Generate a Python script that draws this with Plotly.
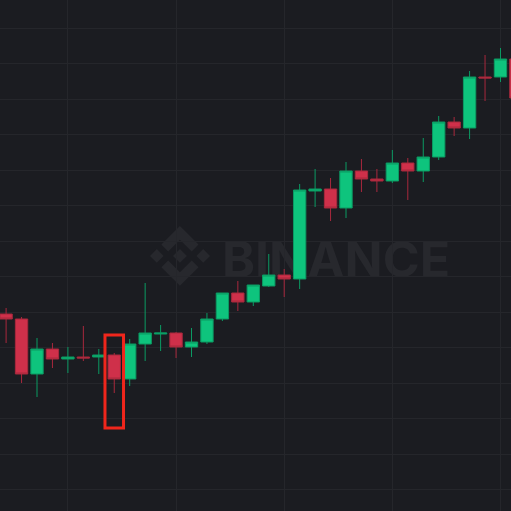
import plotly.graph_objects as go

# ---- data (price units) ----
candle_index = list(range(34))
open_ = [186, 181, 126, 151, 141, 143, 143, 145, 121, 156, 166, 167, 153, 158, 181, 207, 198,
         214, 225, 221, 309, 311, 292, 329, 321, 319, 337, 329, 343, 378, 372, 423, 423, 441]
high = [192, 183, 162, 157, 153, 174, 151, 147, 161, 217, 175, 168, 172, 187, 207, 219, 215,
        246, 231, 316, 331, 322, 338, 341, 331, 350, 342, 362, 384, 383, 429, 445, 452, 446]
low = [157, 117, 103, 132, 127, 139, 126, 107, 114, 139, 149, 142, 143, 156, 179, 189, 194,
       213, 203, 211, 293, 279, 282, 308, 308, 317, 300, 318, 340, 364, 361, 399, 418, 395]
close = [181, 126, 151, 141, 143, 142, 145, 121, 156, 167, 167, 153, 158, 181, 207, 198, 215,
         225, 221, 310, 311, 292, 329, 321, 319, 337, 329, 343, 378, 372, 423, 422, 441, 402]
highlight_index = 7
watermark_text = "BINANCE"

BG = "#1b1c21"
GRID = "#25262b"
WM = "#27282d"
GREEN = "#0ec47d"
GREEN_LINE = "#0b9a63"
RED = "#cf304a"
RED_LINE = "#a8283d"

W = H = 511

fig = go.Figure()

fig.add_trace(go.Candlestick(
    x=candle_index, open=open_, high=high, low=low, close=close,
    increasing=dict(fillcolor=GREEN, line=dict(color=GREEN_LINE, width=1)),
    decreasing=dict(fillcolor=RED, line=dict(color=RED_LINE, width=1)),
    whiskerwidth=0, showlegend=False,
))

# Binance logo watermark (paper coordinates from logo units)
cx, cy, size = 180, 256, 60
s = size / 125.8
polys = [
    [(38.171, 53.203), (62.759, 28.616), (87.36, 53.216), (101.667, 38.909), (62.759, 0), (23.864, 38.896)],
    [(0, 62.759), (14.307, 48.452), (28.614, 62.759), (14.307, 77.066)],
    [(38.171, 72.315), (62.759, 96.902), (87.359, 72.302), (101.674, 86.602), (62.759, 125.519), (23.863, 86.624)],
    [(97.211, 62.765), (111.518, 48.458), (125.825, 62.765), (111.518, 77.072)],
    [(77.271, 62.752), (62.759, 48.234), (48.254, 62.759), (62.759, 77.264)],
]
shapes = []
for poly in polys:
    pts = []
    for u, v in poly:
        px = cx - size / 2 + u * s
        py = cy - size / 2 + v * s
        pts.append(f"{px / W:.5f},{1 - py / H:.5f}")
    path = "M" + " L".join(pts) + " Z"
    shapes.append(dict(type="path", path=path, xref="paper", yref="paper",
                       fillcolor=WM, line=dict(width=0), layer="between"))

# watermark word as a shape label (so it stays beneath the candles)
shapes.append(dict(
    type="rect", xref="paper", yref="paper",
    x0=218 / W, x1=454 / W, y0=1 - 286 / H, y1=1 - 228 / H,
    line=dict(width=0), fillcolor="rgba(0,0,0,0)", layer="between",
    label=dict(text=watermark_text, textposition="middle center",
               font=dict(family="Inter", size=50, color=WM, weight=700)),
))

# highlight rectangle around one candle
shapes.append(dict(
    type="rect", xref="x", yref="y",
    x0=highlight_index - 0.6, x1=highlight_index + 0.6,
    y0=low[highlight_index] - 35, y1=high[highlight_index] + 18,
    line=dict(color="#f0261c", width=3), fillcolor="rgba(0,0,0,0)", layer="above",
))

fig.update_layout(
    width=W, height=H,
    margin=dict(l=0, r=0, t=0, b=0),
    paper_bgcolor=BG, plot_bgcolor=BG,
    boxgap=0.2, boxgroupgap=0,
    shapes=shapes,
    showlegend=False,
    xaxis=dict(range=[-0.395, 32.68], tick0=4, dtick=7, showgrid=True, gridcolor=GRID,
               gridwidth=1, showticklabels=False, zeroline=False, showline=False,
               rangeslider=dict(visible=False), fixedrange=True),
    yaxis=dict(range=[-11, 500], tick0=10.5, dtick=35.5, showgrid=True, gridcolor=GRID,
               gridwidth=1, showticklabels=False, zeroline=False, showline=False,
               fixedrange=True),
)

fig.write_html(
    "out.html",
    post_script="document.body.style.margin='0';document.body.style.background='" + BG + "';",
    config={"displayModeBar": False},
)
